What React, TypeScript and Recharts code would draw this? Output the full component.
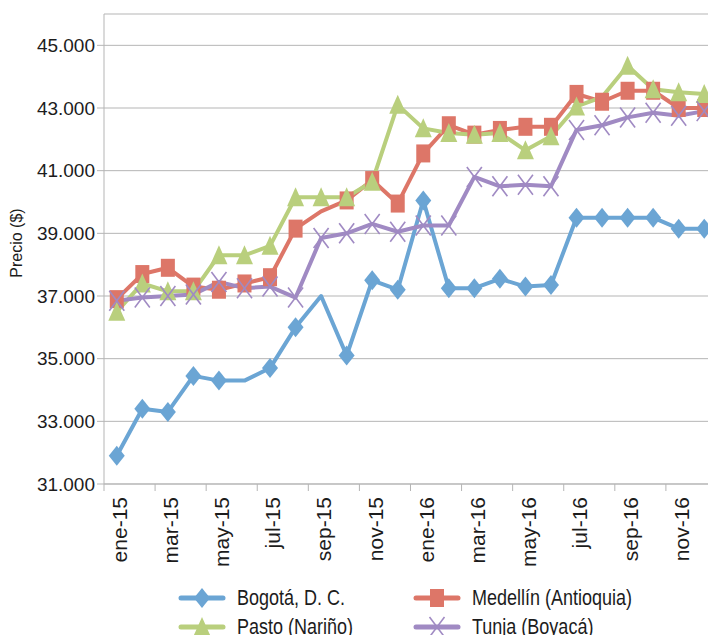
import React from 'react';
import { LineChart, Line, XAxis, YAxis, CartesianGrid } from 'recharts';

const months = [
  'ene-15', 'feb-15', 'mar-15', 'abr-15', 'may-15', 'jun-15',
  'jul-15', 'ago-15', 'sep-15', 'oct-15', 'nov-15', 'dic-15',
  'ene-16', 'feb-16', 'mar-16', 'abr-16', 'may-16', 'jun-16',
  'jul-16', 'ago-16', 'sep-16', 'oct-16', 'nov-16', 'dic-16',
];

const bogota = [
  31900, 33400, 33300, 34450, 34300, 34300, 34700, 36000, 37000, 35100, 37500, 37200,
  40050, 37250, 37250, 37550, 37300, 37350, 39500, 39500, 39500, 39500, 39150, 39150,
];
const medellin = [
  36900, 37700, 37900, 37300, 37200, 37400, 37600, 39150, 39700, 40050, 40700, 39950,
  41550, 42450, 42150, 42300, 42400, 42400, 43450, 43200, 43550, 43550, 43000, 43000,
];
const pasto = [
  36500, 37400, 37150, 37150, 38300, 38300, 38600, 40150, 40150, 40150, 40650, 43100,
  42350, 42200, 42150, 42200, 41650, 42100, 43050, 43350, 44350, 43600, 43500, 43450,
];
const tunja = [
  36850, 36950, 37000, 37050, 37450, 37250, 37300, 36950, 38850, 39000, 39300, 39050,
  39250, 39250, 40800, 40500, 40550, 40500, 42300, 42450, 42700, 42850, 42750, 42900,
];

const seriesNames = ['Bogotá, D. C.', 'Medellín (Antioquia)', 'Pasto (Nariño)', 'Tunja (Boyacá)'];
const yTicks = [31000, 33000, 35000, 37000, 39000, 41000, 43000, 45000];

// points the original drew without a marker
const bogotaNoMarker = [5, 8];
const medellinNoMarker = [8];
const pastoNoMarker = [19];
const tunjaNoMarker: number[] = [];

const data = months.map((mes, i) => ({
  mes,
  bogota: bogota[i],
  medellin: medellin[i],
  pasto: pasto[i],
  tunja: tunja[i],
}));

const BLUE = '#6ba5d4';
const RED = '#dd7668';
const GREEN = '#b9cf7d';
const PURPLE = '#a08ac3';
const GRID = '#b5b5b5';
const TEXT = '#1c1c1c';
const FONT = '"Liberation Sans", Arial, sans-serif';

type Shape = 'diamond' | 'square' | 'triangle' | 'x';

const Marker = ({ shape, cx, cy, color }: { shape: Shape; cx: number; cy: number; color: string }) => {
  if (shape === 'diamond') {
    return <polygon points={`${cx},${cy - 10} ${cx + 8},${cy} ${cx},${cy + 10} ${cx - 8},${cy}`} fill={color} />;
  }
  if (shape === 'square') {
    return <rect x={cx - 7} y={cy - 9} width={14} height={18} fill={color} />;
  }
  if (shape === 'triangle') {
    return <polygon points={`${cx},${cy - 10} ${cx + 8.5},${cy + 9} ${cx - 8.5},${cy + 9}`} fill={color} />;
  }
  return (
    <g stroke={color} strokeWidth={1.6}>
      <line x1={cx - 7.5} y1={cy - 10} x2={cx + 7.5} y2={cy + 10} />
      <line x1={cx - 7.5} y1={cy + 10} x2={cx + 7.5} y2={cy - 10} />
    </g>
  );
};

const makeDot = (shape: Shape, color: string, skip: number[]) => (props: any) => {
  const { cx, cy, index } = props;
  const key = `${shape}-${index}`;
  if (cx == null || cy == null || skip.includes(index)) return <g key={key} />;
  return (
    <g key={key}>
      <Marker shape={shape} cx={cx} cy={cy} color={color} />
    </g>
  );
};

const HALF_BAND = 12.78;

const MonthTick = ({ x, y, payload }: any) => {
  const tx = x + 3;
  const ty = y + 13;
  return (
    <g>
      <line x1={x - HALF_BAND} y1={y} x2={x - HALF_BAND} y2={y + 7} stroke={GRID} strokeWidth={1} />
      <text
        x={tx}
        y={ty}
        dy="0.35em"
        transform={`rotate(-90, ${tx}, ${ty})`}
        textAnchor="end"
        style={{ fontSize: 21, fontFamily: FONT, fill: TEXT }}
      >
        {payload.value}
      </text>
    </g>
  );
};

const fmt = (v: number) => String(v).replace(/\B(?=(\d{3})+(?!\d))/g, '.');

const legendItems: { name: string; color: string; shape: Shape; left: number; top: number }[] = [
  { name: seriesNames[0], color: BLUE, shape: 'diamond', left: 178, top: 598 },
  { name: seriesNames[1], color: RED, shape: 'square', left: 413, top: 598 },
  { name: seriesNames[2], color: GREEN, shape: 'triangle', left: 178, top: 627 },
  { name: seriesNames[3], color: PURPLE, shape: 'x', left: 413, top: 627 },
];

export default function App() {
  return (
    <div
      style={{
        position: 'fixed',
        left: 0,
        top: 0,
        width: 708,
        height: 635,
        overflow: 'hidden',
        background: '#fff',
        fontFamily: FONT,
      }}
    >
      <LineChart width={730} height={635} data={data} margin={{ top: 14, right: 13, left: 0, bottom: 0 }}>
        <CartesianGrid vertical={false} stroke={GRID} strokeWidth={1} />
        <XAxis
          dataKey="mes"
          height={151}
          interval={1}
          padding={{ left: HALF_BAND, right: HALF_BAND }}
          axisLine={{ stroke: GRID }}
          tickLine={false}
          tickSize={0}
          tickMargin={0}
          tick={<MonthTick />}
        />
        <YAxis
          width={104}
          domain={[31000, 46000]}
          ticks={yTicks}
          tickFormatter={fmt}
          axisLine={{ stroke: GRID }}
          tickLine={{ stroke: GRID }}
          tickSize={7}
          tickMargin={2}
          tick={{ fontSize: 19, fill: TEXT, fontFamily: FONT }}
        />
        <Line
          dataKey="bogota"
          name={seriesNames[0]}
          stroke={BLUE}
          strokeWidth={4}
          strokeLinejoin="round"
          dot={makeDot('diamond', BLUE, bogotaNoMarker)}
          isAnimationActive={false}
        />
        <Line
          dataKey="medellin"
          name={seriesNames[1]}
          stroke={RED}
          strokeWidth={4}
          strokeLinejoin="round"
          dot={makeDot('square', RED, medellinNoMarker)}
          isAnimationActive={false}
        />
        <Line
          dataKey="pasto"
          name={seriesNames[2]}
          stroke={GREEN}
          strokeWidth={4}
          strokeLinejoin="round"
          dot={makeDot('triangle', GREEN, pastoNoMarker)}
          isAnimationActive={false}
        />
        <Line
          dataKey="tunja"
          name={seriesNames[3]}
          stroke={PURPLE}
          strokeWidth={4}
          strokeLinejoin="round"
          dot={makeDot('x', PURPLE, tunjaNoMarker)}
          isAnimationActive={false}
        />
      </LineChart>

      <div
        style={{
          position: 'absolute',
          left: 17,
          top: 243,
          transform: 'translate(-50%, -50%) rotate(-90deg)',
          fontSize: 16,
          lineHeight: '20px',
          color: TEXT,
          whiteSpace: 'nowrap',
        }}
      >
        Precio ($)
      </div>

      {legendItems.map((it) => (
        <div
          key={it.name}
          style={{
            position: 'absolute',
            left: it.left,
            top: it.top - 12,
            height: 24,
            display: 'flex',
            alignItems: 'center',
            whiteSpace: 'nowrap',
          }}
        >
          <svg width={48} height={24} style={{ display: 'block' }}>
            <line x1={3} y1={12} x2={45} y2={12} stroke={it.color} strokeWidth={5} strokeLinecap="round" />
            <Marker shape={it.shape} cx={24} cy={12} color={it.color} />
          </svg>
          <span
            style={{
              marginLeft: 11,
              fontSize: 18,
              color: TEXT,
              display: 'inline-block',
              transform: 'scaleY(1.2)',
            }}
          >
            {it.name}
          </span>
        </div>
      ))}
    </div>
  );
}
